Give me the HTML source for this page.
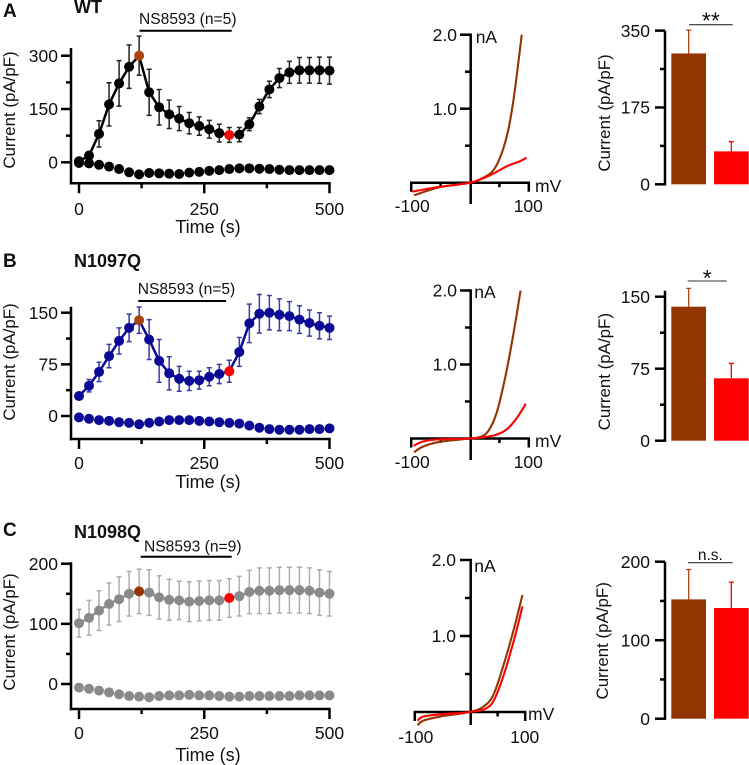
<!DOCTYPE html>
<html lang="en">
<head>
<meta charset="utf-8">
<title>NS8593 current recordings: WT, N1097Q, N1098Q</title>
<style>
html,body{margin:0;padding:0;background:#fff;width:749px;height:765px;overflow:hidden}
svg{display:block;filter:blur(0.35px)}
text{font-family:"Liberation Sans",Arial,sans-serif;fill:#111}
.tick{font-size:17.5px}
.ttl{font-size:16.9px}
.xttl{font-size:18px}
.drug{font-size:15.6px}
.bold{font-weight:bold;font-size:18px}
</style>
</head>
<body>
<svg id="fig" width="749" height="765" viewBox="0 0 749 765" xmlns="http://www.w3.org/2000/svg">
  <text class="bold" x="3" y="17" style="font-size:19px">A</text>
  <text class="bold" x="74" y="13">WT</text>
  <text class="bold" x="3" y="267" style="font-size:19px">B</text>
  <text class="bold" x="74" y="267">N1097Q</text>
  <text class="bold" x="3" y="536" style="font-size:19px">C</text>
  <text class="bold" x="74" y="538">N1098Q</text>
</svg>
<script>
// ---------- shared axis values ----------
const timePoints = [0,20,40,60,80,100,120,140,160,180,200,220,240,260,280,300,320,340,360,380,400,420,440,460,480,500];
const timeMajorTicks = [0,250,500];
const timeMinorTicks = [125,375];

// ---------- panel A: WT time course ----------
const wtOutward = [3,19,80,163,222,269,300,197,155,135,123,110,102,93,82,77,78,107,157,205,237,253,259,259,259,258];
const wtOutwardErr = [5,10,37,61,64,61,55,65,50,40,34,30,26,25,25,21,20,18,20,23,27,31,36,36,37,38];
const wtInward = [-2,-3,-7,-12,-19,-28,-34,-30,-31,-32,-33,-29,-27,-24,-22,-19,-17,-17,-18,-19,-21,-22,-22,-22,-22,-22];
const wtMajorTicks = [0,150,300];
const wtMinorTicks = [75,225];

// ---------- panel B: N1097Q time course ----------
const n1097Outward = [29,44,64,87,109,128,139,111,80,62,54,51,52,57,61,65,93,134.5,148.5,150,147,145,140,135,131,128];
const n1097OutwardErr = [4,9,14,17,19,20,19,29,31,24,18,14,13,13,14,16,21,28,28,25,23,21,20,19,19,17];
const n1097Inward = [-2,-4,-6,-7,-9,-10,-12,-10,-8,-6,-6,-6,-7,-8,-9,-10,-11,-14,-17,-19,-20,-20,-20,-19,-19,-18];
const n1097MajorTicks = [0,75,150];
const n1097MinorTicks = [37.5,112.5];

// ---------- panel C: N1098Q time course ----------
const n1098Outward = [101,110,122,133,141,150,154,152,144,140,139,137,138,139,139,143,146,153,155,155,156,156,156,155,152,150];
const n1098OutwardErr = [23,29,33,35,37,37,37,38,36,34,32,33,33,33,33,32,33,36,38,38,38,38,38,38,38,37];
const n1098Inward = [-6,-8,-11,-14,-17,-20,-21,-22,-20,-19,-19,-18,-19,-19,-20,-21,-21,-20,-20,-20,-20,-20,-19,-19,-19,-19];
const n1098MajorTicks = [0,100,200];
const n1098MinorTicks = [50,150];

// ---------- I-V curves (mV, nA) ----------
const ivMajorY = [1,2];
const ivMinorY = [0.5,1.5];
const ivEndX = [-100,100];
const ivMinorX = [-50,50];
const wtPeakV = [-95,-51,0,23,40,54,65,74,82,88];
const wtPeakI = [-0.17,-0.06,0,0.07,0.17,0.40,0.71,1.12,1.61,2.0];
const wtDrugV = [-98,-51,0,34,62,85,96];
const wtDrugI = [-0.12,-0.055,0,0.10,0.22,0.29,0.34];
const n1097PeakV = [-95,-80,-51,0,17,31,45,60,74,86];
const n1097PeakI = [-0.185,-0.11,-0.045,0,0.02,0.10,0.34,0.83,1.42,2.0];
const n1097DrugV = [-96,-80,-51,0,40,62,79,95];
const n1097DrugI = [-0.10,-0.04,-0.01,0,0.04,0.12,0.27,0.47];
const n1098PeakV = [-95,-85,-54,0,24,42,60,79,95];
const n1098PeakI = [-0.175,-0.115,-0.06,0,0.07,0.22,0.60,1.08,1.54];
const n1098DrugV = [-95,-85,-54,0,30,45,63,82,95];
const n1098DrugI = [-0.115,-0.06,-0.03,0,0.05,0.18,0.53,1.01,1.39];

// ---------- summary bars ----------
const barCategories = ['peak','ns8593'];
const wtBars = [298,75];
const wtBarTops = [351,97];
const wtBarTicks = [0,175,350];
const wtBarMinor = [87.5,262.5];
const n1097Bars = [139.6,65];
const n1097BarTops = [158.7,80.5];
const n1097BarTicks = [0,75,150];
const n1097BarMinor = [37.5,112.5];
const n1098Bars = [152,141];
const n1098BarTops = [190,174];
const n1098BarTicks = [0,100,200];
const n1098BarMinor = [50,150];

// ---------- drawing ----------
const NS = 'http://www.w3.org/2000/svg';
const fig = document.getElementById('fig');
const BROWN = '#933500', RED = '#ff0000', PEAK = '#a8440f';
const AXW = 2.5;

function put(tag, attrs, parent) {
  const e = document.createElementNS(NS, tag);
  for (const k in attrs) e.setAttribute(k, attrs[k]);
  (parent || fig).appendChild(e);
  return e;
}
function seg(x1, y1, x2, y2, color, w, parent) {
  return put('line', {x1: x1, y1: y1, x2: x2, y2: y2, stroke: color, 'stroke-width': w}, parent);
}
function label(str, x, y, anchor, cls, parent) {
  const t = put('text', {x: x, y: y, 'text-anchor': anchor, class: cls}, parent);
  t.textContent = str;
  return t;
}
function smooth(pts) {
  let d = 'M' + pts[0][0].toFixed(2) + ' ' + pts[0][1].toFixed(2);
  for (let i = 0; i < pts.length - 1; i++) {
    const p0 = pts[Math.max(i - 1, 0)], p1 = pts[i], p2 = pts[i + 1], p3 = pts[Math.min(i + 2, pts.length - 1)];
    const c1x = p1[0] + (p2[0] - p0[0]) / 6, c1y = p1[1] + (p2[1] - p0[1]) / 6;
    const c2x = p2[0] - (p3[0] - p1[0]) / 6, c2y = p2[1] - (p3[1] - p1[1]) / 6;
    d += 'C' + c1x.toFixed(2) + ' ' + c1y.toFixed(2) + ' ' + c2x.toFixed(2) + ' ' + c2y.toFixed(2) + ' ' + p2[0].toFixed(2) + ' ' + p2[1].toFixed(2);
  }
  return d;
}

function timeCourse(c) {
  const g = put('g', {});
  
  
  const x = t => 79 + t * 0.501;
  const y = v => c.zero - v * c.scale;
  const left = 71;
  // axes
  const yAxis = seg(left, c.top, left, c.bottom + 1.2, '#000', AXW, g);
  
  
  const xAxis = seg(left - 1.2, c.bottom, x(500) + 1.2, c.bottom, '#000', AXW, g);
  
  
  c.major.forEach(v => {
    const tk = seg(left - 10, y(v), left, y(v), '#000', AXW, g);
    
    
    const tl = label(String(v), 58, y(v) + 6.2, 'end', 'tick', g);
    
    
  });
  c.minor.forEach(v => {
    const tk = seg(left - 5, y(v), left, y(v), '#000', AXW, g);
    
    
  });
  timeMajorTicks.forEach(t => {
    const tk = seg(x(t), c.bottom, x(t), c.bottom + 10, '#000', AXW, g);
    
    
    const tl = label(String(t), x(t), c.tickBase, 'middle', 'tick', g);
    
    
  });
  timeMinorTicks.forEach(t => {
    const tk = seg(x(t), c.bottom, x(t), c.bottom + 5, '#000', AXW, g);
    
    
  });
  const xt = label('Time (s)', 208, c.titleBase, 'middle', 'xttl', g);
  
  
  const yt = label('Current (pA/pF)', 0, 0, 'middle', 'ttl', g);
  yt.setAttribute('transform', 'translate(15 ' + c.titleY + ') rotate(-90)');
  
  
  // drug bar
  const db = seg(c.drug[0], c.drug[2], c.drug[1], c.drug[2], '#000', 2, g);
  
  
  const dl = label(c.drugText, c.drug[3], c.drug[4], 'start', 'drug', g);
  
  
  // error bars
  timePoints.forEach((t, i) => {
    const px = x(t), up = y(c.out[i] + c.err[i]), lo = y(c.out[i] - c.err[i]);
    const eb = put('path', {d: 'M' + px + ' ' + up + 'V' + lo + 'M' + (px - 2.5) + ' ' + up + 'h5M' + (px - 2.5) + ' ' + lo + 'h5', stroke: c.errColor, 'stroke-width': 1.5, fill: 'none'}, g);
    
    
  });
  // line
  const ln = put('polyline', {points: timePoints.map((t, i) => x(t) + ',' + y(c.out[i])).join(' '), fill: 'none', stroke: c.color, 'stroke-width': 2.5}, g);
  
  
  // markers
  timePoints.forEach((t, i) => {
    const lower = put('circle', {cx: x(t), cy: y(c.inw[i]), r: 5, fill: c.color}, g);
    
    
    const fill = t === 120 ? (c.peakColor || PEAK) : t === 300 ? RED : c.color;
    const upper = put('circle', {cx: x(t), cy: y(c.out[i]), r: 5, fill: fill}, g);
    
    
  });
}

function ivPlot(c) {
  const g = put('g', {});
  
  
  const x = v => c.x0 + v * c.xs;
  const y = i => c.y0 - i * c.ys;
  const yAxis = seg(c.x0 + 0.7, y(2) - 1.2, c.x0 + 0.7, c.yEnd, '#000', AXW, g);
  
  
  const xAxis = seg(x(-100) - 1.2, c.y0, x(100) + 1.2, c.y0, '#000', AXW, g);
  
  
  ivMajorY.forEach(v => {
    const tk = seg(c.x0 - 10, y(v), c.x0 + 0.7, y(v), '#000', AXW, g);
    
    
    const tl = label(v.toFixed(1), c.labelX, y(v) + 6.2, 'end', 'tick', g);
    
    
  });
  ivMinorY.forEach(v => {
    const tk = seg(c.x0 - 5, y(v), c.x0 + 0.7, y(v), '#000', AXW, g);
    
    
  });
  ivEndX.forEach(v => {
    const tk = seg(x(v), c.y0, x(v), c.y0 + 9, '#000', AXW, g);
    
    
    const tl = label(String(v), x(v) + (v < 0 ? 1 : -0.5), c.base, 'middle', 'tick', g);
    
    
  });
  ivMinorX.forEach(v => {
    const tk = seg(x(v), c.y0, x(v), c.y0 + 4.5, '#000', AXW, g);
    
    
  });
  const na = label('nA', c.naX, c.naY, 'start', 'tick', g);
  
  
  const mv = label('mV', c.mvX, c.mvY, 'start', 'tick', g);
  
  
  const peak = put('path', {d: smooth(c.peakV.map((v, i) => [x(v), y(c.peakI[i])])), fill: 'none', stroke: BROWN, 'stroke-width': 2.1}, g);
  
  
  const drug = put('path', {d: smooth(c.drugV.map((v, i) => [x(v), y(c.drugI[i])])), fill: 'none', stroke: RED, 'stroke-width': 2.1}, g);
  
  
}

function barPlot(c) {
  const g = put('g', {});
  
  
  const y = v => c.zero - v * c.scale;
  const axisX = 665;
  const yAxis = seg(axisX, c.top, axisX, c.zero + 1.2, '#000', AXW, g);
  
  
  c.ticks.forEach(v => {
    const tk = seg(axisX - 10, y(v), axisX, y(v), '#000', AXW, g);
    
    
    const tl = label(String(v), 650, y(v) + 6.2, 'end', 'tick', g);
    
    
  });
  c.minor.forEach(v => {
    const tk = seg(axisX - 5, y(v), axisX, y(v), '#000', AXW, g);
    
    
  });
  const yt = label('Current (pA/pF)', 0, 0, 'middle', 'ttl', g);
  yt.setAttribute('transform', 'translate(' + c.titleX + ' ' + c.titleY + ') rotate(-90)');
  
  
  barCategories.forEach((name, i) => {
    const left = 671.3 + i * 42.7, w = 34.7, color = i === 0 ? BROWN : RED, cx = left + w / 2;
    const bar = put('rect', {x: left, y: y(c.vals[i]), width: w, height: c.zero - y(c.vals[i]), fill: color}, g);
    
    
    const eb = put('path', {d: 'M' + cx + ' ' + y(c.vals[i]) + 'V' + y(c.tops[i]) + 'M' + (cx - 2.5) + ' ' + y(c.tops[i]) + 'h5', stroke: color === BROWN ? '#b0451c' : RED, 'stroke-width': 1.3, fill: 'none'}, g);
    
    
  });
  const sl = seg(c.sig[0], c.sig[2], c.sig[1], c.sig[2], '#333', 1.1, g);
  
  
  const st = label(c.sigText, (c.sig[0] + c.sig[1]) / 2, c.sigBase, 'middle', 'tick', g);
  st.setAttribute('style', 'font-size:' + c.sigSize + 'px');
  
  
}

timeCourse({id: 'wt', zero: 162.3, scale: 0.3553, top: 48, bottom: 183.3, tickBase: 215, titleBase: 233, titleY: 110,
  out: wtOutward, err: wtOutwardErr, inw: wtInward, major: wtMajorTicks, minor: wtMinorTicks,
  color: '#000', errColor: '#222', drug: [139.5, 231.7, 30.7, 139, 24], drugText: 'NS8593 (n=5)'});
timeCourse({id: 'n1097q', zero: 416, scale: 0.6887, top: 306.7, bottom: 439, tickBase: 469, titleBase: 488, titleY: 362,
  out: n1097Outward, err: n1097OutwardErr, inw: n1097Inward, major: n1097MajorTicks, minor: n1097MinorTicks,
  color: '#0a0a96', errColor: '#3a3aa8', drug: [138.3, 226, 301, 137.7, 294], drugText: 'NS8593 (n=5)'});
timeCourse({id: 'n1098q', zero: 684, scale: 0.6015, top: 562.3, bottom: 709, tickBase: 739, titleBase: 761, titleY: 632,
  out: n1098Outward, err: n1098OutwardErr, inw: n1098Inward, major: n1098MajorTicks, minor: n1098MinorTicks,
  color: '#8a8a8a', errColor: '#adadad', peakColor: '#933500', drug: [140.7, 231.7, 556.7, 144, 551.5], drugText: 'NS8593 (n=9)'});

ivPlot({id: 'wt', x0: 470, xs: 0.588, y0: 182.7, ys: 74, yEnd: 204, labelX: 457, base: 212, naX: 475.7, naY: 43, mvX: 535, mvY: 192,
  peakV: wtPeakV, peakI: wtPeakI, drugV: wtDrugV, drugI: wtDrugI});
ivPlot({id: 'n1097q', x0: 470, xs: 0.588, y0: 438.5, ys: 74, yEnd: 460, labelX: 457, base: 468, naX: 474.3, naY: 298, mvX: 535, mvY: 447,
  peakV: n1097PeakV, peakI: n1097PeakI, drugV: n1097DrugV, drugI: n1097DrugI});
ivPlot({id: 'n1098q', x0: 470, xs: 0.552, y0: 712, ys: 76, yEnd: 725, labelX: 456, base: 743, naX: 474.3, naY: 572, mvX: 528, mvY: 720,
  peakV: n1098PeakV, peakI: n1098PeakI, drugV: n1098DrugV, drugI: n1098DrugI});

barPlot({id: 'wt', zero: 184.3, scale: 0.4391, top: 30.7, vals: wtBars, tops: wtBarTops, ticks: wtBarTicks, minor: wtBarMinor,
  titleX: 610, titleY: 113, sig: [689, 732.7, 24.7], sigText: '**', sigBase: 28.5, sigSize: 23});
barPlot({id: 'n1097q', zero: 440.7, scale: 0.96, top: 290.7, vals: n1097Bars, tops: n1097BarTops, ticks: n1097BarTicks, minor: n1097BarMinor,
  titleX: 610, titleY: 371.7, sig: [687.7, 726.7, 281], sigText: '*', sigBase: 286, sigSize: 23});
barPlot({id: 'n1098q', zero: 718.7, scale: 0.785, top: 561.7, vals: n1098Bars, tops: n1098BarTops, ticks: n1098BarTicks, minor: n1098BarMinor,
  titleX: 608, titleY: 640.8, sig: [688, 732.7, 562.7], sigText: 'n.s.', sigBase: 560, sigSize: 15.5});
</script>
</body>
</html>
